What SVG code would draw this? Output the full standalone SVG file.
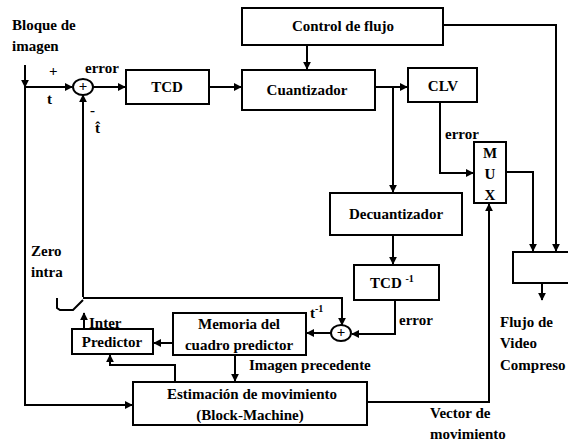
<svg xmlns="http://www.w3.org/2000/svg" width="568" height="441" viewBox="0 0 568 441">
<style>
.b{fill:#fff;stroke:#000;stroke-width:2}
.l{fill:none;stroke:#000;stroke-width:2}
.t{font-family:"Liberation Serif","Times New Roman",serif;font-weight:bold;font-size:15px;fill:#000}
.c{text-anchor:middle}
</style>
<defs>
<marker id="a" viewBox="0 0 10 10" refX="9" refY="5" markerWidth="4" markerHeight="4" orient="auto"><path d="M0,0 L10,5 L0,10 z" fill="#000"/></marker>
</defs>
<rect width="568" height="441" fill="#fff"/>
<g id="connectors">
<path class="l" d="M25,65 V87" marker-end="url(#a)"/>
<path class="l" d="M25,87 V405 H132" marker-end="url(#a)"/>
<path class="l" d="M25,87 H72" marker-end="url(#a)"/>
<path class="l" d="M93,87 H125" marker-end="url(#a)"/>
<path class="l" d="M83,297 V95" marker-end="url(#a)"/>
<path class="l" d="M209,87 H241" marker-end="url(#a)"/>
<path class="l" d="M307,45 V69" marker-end="url(#a)"/>
<path class="l" d="M375,87 H407" marker-end="url(#a)"/>
<path class="l" d="M393,87 V192" marker-end="url(#a)"/>
<path class="l" d="M443,25 H556 V251" marker-end="url(#a)"/>
<path class="l" d="M440,102 V173 H473" marker-end="url(#a)"/>
<path class="l" d="M506,172 H533 V251" marker-end="url(#a)"/>
<path class="l" d="M542,283 V300" marker-end="url(#a)"/>
<path class="l" d="M367,402 H489 V204" marker-end="url(#a)"/>
<path class="l" d="M393,235 V264" marker-end="url(#a)"/>
<path class="l" d="M395,300 V334 H352" marker-end="url(#a)"/>
<path class="l" d="M83,298 H342 V325" marker-end="url(#a)"/>
<path class="l" d="M331,333 H307" marker-end="url(#a)"/>
<path class="l" d="M173,343 H154" marker-end="url(#a)"/>
<path class="l" d="M235,355 V381" marker-end="url(#a)"/>
<path class="l" d="M175,382 V365 H110 V355" marker-end="url(#a)"/>
<path class="l" d="M84,328 V313" marker-end="url(#a)"/>
<path class="l" d="M57,298 V308 L60,310 H73 L83,300"/>
</g>
<g id="sum1"><ellipse class="b" cx="83" cy="87" rx="10" ry="8"/><text class="t c" x="83" y="91" font-size="10">+</text></g>
<g id="sum2"><ellipse class="b" cx="341" cy="333" rx="10" ry="8"/><text class="t c" x="341" y="337" font-size="10">+</text></g>
<g id="tcd"><rect class="b" x="126" y="70" width="83" height="34"/><text class="t c" x="167" y="92">TCD</text></g>
<g id="control"><rect class="b" x="242" y="8" width="201" height="37"/><text class="t c" x="343" y="31">Control de flujo</text></g>
<g id="cuantizador"><rect class="b" x="242" y="70" width="133" height="40"/><text class="t c" x="307" y="95">Cuantizador</text></g>
<g id="clv"><rect class="b" x="408" y="68" width="69" height="34"/><text class="t c" x="443" y="91">CLV</text></g>
<g id="mux"><rect class="b" x="474" y="142" width="32" height="61"/><text class="t c" x="490" y="158">M</text><text class="t c" x="490" y="179">U</text><text class="t c" x="490" y="200">X</text></g>
<g id="decuantizador"><rect class="b" x="330" y="193" width="132" height="42"/><text class="t c" x="396" y="219">Decuantizador</text></g>
<g id="tcdinv"><rect class="b" x="354" y="265" width="85" height="35"/><text class="t c" x="392" y="288">TCD <tspan font-size="10" dy="-6">-1</tspan></text></g>
<g id="salida"><rect class="b" x="513" y="252" width="60" height="31"/></g>
<g id="memoria"><rect class="b" x="173" y="313" width="133" height="42"/><text class="t c" x="239" y="329">Memoria del</text><text class="t c" x="239" y="350">cuadro predictor</text></g>
<g id="predictor"><rect class="b" x="72" y="329" width="81" height="25"/><text class="t c" x="112" y="347">Predictor</text></g>
<g id="estimacion"><rect class="b" x="133" y="382" width="234" height="43"/><text class="t c" x="252" y="399">Estimación de movimiento</text><text class="t c" x="250" y="420">(Block-Machine)</text></g>
<g id="labels">
<text class="t" x="12" y="30">Bloque de</text>
<text class="t" x="12" y="51">imagen</text>
<text class="t" x="49" y="76">+</text>
<text class="t" x="47" y="104">t</text>
<text class="t" x="85" y="73">error</text>
<text class="t" x="90" y="115">-</text>
<text class="t" x="95" y="133">t̂</text>
<text class="t" x="445" y="139">error</text>
<text class="t" x="31" y="256">Zero</text>
<text class="t" x="31" y="277">intra</text>
<text class="t" x="89" y="328">Inter</text>
<text class="t" x="310" y="318">t<tspan font-size="10" dy="-6">-1</tspan></text>
<text class="t" x="399" y="325">error</text>
<text class="t" x="249" y="370">Imagen precedente</text>
<text class="t" x="500" y="327">Flujo de</text>
<text class="t" x="500" y="348">Video</text>
<text class="t" x="500" y="370">Compreso</text>
<text class="t" x="430" y="418">Vector de</text>
<text class="t" x="430" y="439">movimiento</text>
</g>
</svg>
